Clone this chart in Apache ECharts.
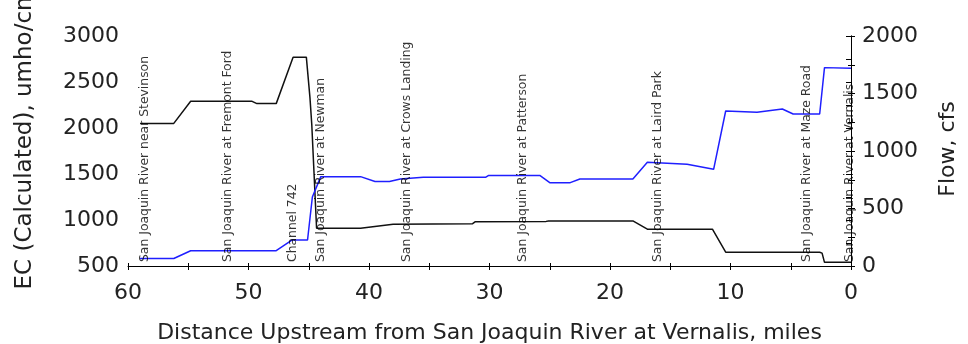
<!DOCTYPE html>
<html>
<head>
<meta charset="utf-8">
<script src="https://cdn.jsdelivr.net/npm/echarts@6/dist/echarts.min.js"></script>
<style>
  html, body { margin: 0; padding: 0; background: #fff; }
  #chart { width: 968px; height: 344px; }
</style>
</head>
<body>
<div id="chart"></div>
<script>
// EC (calculated) profile along the river, miles upstream of Vernalis
const ecMiles  = [59.0, 56.2, 54.8, 49.7, 49.3, 47.7, 46.3, 45.2, 44.9, 44.75, 44.35, 40.7, 38.0, 31.4, 31.2, 25.3, 25.1, 18.1, 16.9, 11.5, 10.4, 2.6, 2.4, 2.2, 0.0];
const ecValues = [2050, 2050, 2290, 2290, 2265, 2265, 2770, 2770, 2330, 2040, 910, 910, 955, 960, 980, 985, 990, 990, 900, 900, 650, 650, 640, 540, 540];

// Flow profile (cfs)
const flowMiles  = [59.0, 56.2, 54.8, 47.7, 46.4, 45.1, 44.7, 44.0, 40.7, 39.5, 38.3, 37.4, 35.5, 30.3, 30.1, 25.8, 25.0, 23.3, 22.5, 18.1, 16.9, 13.6, 11.4, 10.4, 7.8, 5.7, 4.8, 2.6, 2.2, 0.0];
const flowValues = [65, 65, 133, 133, 226, 226, 600, 777, 777, 735, 735, 757, 772, 772, 786, 786, 725, 725, 757, 757, 902, 885, 841, 1348, 1336, 1365, 1322, 1322, 1725, 1720];

// Stations marked along the reach
const stationNames = [
  'San Joaquin River near Stevinson',
  'San Joaquin River at Fremont Ford',
  'Channel 742',
  'San Joaquin River at Newman',
  'San Joaquin River at Crows Landing',
  'San Joaquin River at Patterson',
  'San Joaquin River at Laird Park',
  'San Joaquin River at Maze Road',
  'San Joaquin River at Vernalis'
];
const stationMiles = [58.6, 51.7, 46.3, 44.0, 36.9, 27.2, 16.0, 3.7, 0.1];

// Axis ranges and tick steps
const xRange = [0, 60];
const xStep = 10;
const ecRange = [500, 3000];
const ecStep = 500;
const flowRange = [0, 2000];
const flowStep = 500;

const FONT = 'DejaVu Sans';
const INK = '#222';

const pairs = (xs, ys) => xs.map((x, i) => [x, ys[i]]);
const plain = v => String(v);

const chart = echarts.init(document.getElementById('chart'), null, { renderer: 'canvas' });

const baseX = {
  type: 'value', min: xRange[0], max: xRange[1], interval: xStep, inverse: true,
  position: 'bottom', splitLine: { show: false }
};
const tickLine = { color: '#000', width: 1 };

chart.setOption({
  animation: false,
  backgroundColor: '#fff',
  grid: { left: 128, right: 117, top: 36, bottom: 78, containLabel: false, outerBoundsMode: 'none' },
  xAxis: [
    Object.assign({}, baseX, {
      name: 'Distance Upstream from San Joaquin River at Vernalis, miles',
      nameLocation: 'middle',
      nameGap: 56,
      nameTextStyle: { fontFamily: FONT, fontSize: 22, color: INK },
      axisLine: { show: true, lineStyle: tickLine },
      axisTick: { show: true, length: 4, lineStyle: tickLine },
      minorTick: { show: true, splitNumber: 2, length: 4, lineStyle: tickLine },
      axisLabel: { fontFamily: FONT, fontSize: 22, color: INK, margin: 16, formatter: plain }
    }),
    Object.assign({}, baseX, {
      axisLine: { show: false },
      axisTick: { show: true, inside: true, length: 3, lineStyle: tickLine },
      minorTick: { show: true, splitNumber: 2, length: 3, lineStyle: tickLine },
      axisLabel: { show: false }
    })
  ],
  yAxis: [
    {
      type: 'value', position: 'left', min: ecRange[0], max: ecRange[1], interval: ecStep,
      splitLine: { show: false },
      axisLine: { show: true, lineStyle: tickLine },
      axisTick: { show: true, length: 5, lineStyle: tickLine },
      minorTick: { show: true, splitNumber: 2, length: 5, lineStyle: tickLine },
      axisLabel: { fontFamily: FONT, fontSize: 22, color: INK, margin: 9, formatter: plain }
    },
    {
      type: 'value', position: 'right', min: flowRange[0], max: flowRange[1], interval: flowStep,
      splitLine: { show: false },
      axisLine: { show: true, lineStyle: tickLine },
      axisTick: { show: true, length: 4, lineStyle: tickLine },
      minorTick: { show: true, splitNumber: 2, length: 4, lineStyle: tickLine },
      axisLabel: { fontFamily: FONT, fontSize: 22, color: INK, margin: 11, formatter: plain }
    },
    {
      type: 'value', position: 'right', min: flowRange[0], max: flowRange[1], interval: flowStep,
      splitLine: { show: false },
      axisLine: { show: false },
      axisTick: { show: true, inside: true, length: 3, lineStyle: tickLine },
      minorTick: { show: true, splitNumber: 2, length: 3, lineStyle: tickLine },
      axisLabel: { show: false }
    }
  ],
  graphic: [
    {
      type: 'text', x: 25, y: 139, rotation: Math.PI / 2,
      style: {
        text: 'EC (Calculated), umho/cm', font: '23px "' + FONT + '"', fill: INK,
        textAlign: 'center', textVerticalAlign: 'middle'
      }
    },
    {
      type: 'text', x: 948, y: 149, rotation: Math.PI / 2,
      style: {
        text: 'Flow, cfs', font: '22px "' + FONT + '"', fill: INK,
        textAlign: 'center', textVerticalAlign: 'middle'
      }
    }
  ],
  series: [
    {
      name: 'EC', type: 'line', xAxisIndex: 0, yAxisIndex: 0,
      data: pairs(ecMiles, ecValues),
      showSymbol: false, symbol: 'none',
      lineStyle: { color: '#111', width: 1.5 },
      z: 2
    },
    {
      name: 'Flow', type: 'line', xAxisIndex: 0, yAxisIndex: 1,
      data: pairs(flowMiles, flowValues),
      showSymbol: false, symbol: 'none',
      lineStyle: { color: '#1f1fff', width: 1.5 },
      z: 3
    },
    {
      name: 'Stations', type: 'scatter', xAxisIndex: 0, yAxisIndex: 0,
      data: stationMiles.map(m => [m, ecRange[0]]),
      symbolSize: 0,
      silent: true,
      label: {
        show: true,
        formatter: p => stationNames[p.dataIndex],
        position: 'top', distance: 4, rotate: 90,
        align: 'left', verticalAlign: 'middle',
        fontFamily: FONT, fontSize: 12.4, color: '#000'
      },
      z: 4
    }
  ]
});
</script>
</body>
</html>
